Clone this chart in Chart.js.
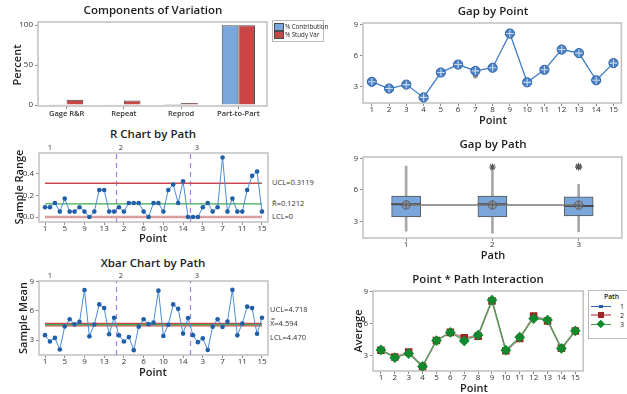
<!DOCTYPE html>
<html>
<head>
<meta charset="utf-8">
<script src="https://cdn.jsdelivr.net/npm/chart.js@4.4.1/dist/chart.umd.min.js"></script>
<style>
  html, body { margin: 0; padding: 0; background: #fff; }
  #page { position: relative; width: 627px; height: 394px; overflow: hidden;
          font-family: 'Open Sans', 'Noto Sans', sans-serif; color: #1e1e1e; }
  #page canvas { position: absolute; }
  .t { position: absolute; white-space: nowrap; transform: translate(-50%, -50%); line-height: 1; }
  .title { font-size: 11.5px; font-weight: 600; }
  .ax { font-size: 11px; font-weight: 600; }
  .rot { transform: translate(-50%, -50%) rotate(-90deg); }
  .lim { position: absolute; font-size: 7.5px; white-space: nowrap; transform: translateY(-50%); line-height: 1; color: #333; }
  .seg { position: absolute; font-size: 7.5px; transform: translate(-50%, -50%); line-height: 1; color: #333; }
  .lg { position: absolute; border: 1px solid #b9b9b9; background: #fff; }
  .lgtxt { position: absolute; font-size: 6.2px; white-space: nowrap; transform: translateY(-50%); line-height: 1; color: #222; }
</style>
</head>
<body>
<div id="page">
  <!-- chart titles -->
  <div class="t title" style="left:153px;top:10px;">Components of Variation</div>
  <div class="t title" style="left:153px;top:134px;">R Chart by Path</div>
  <div class="t title" style="left:153px;top:263px;">Xbar Chart by Path</div>
  <div class="t title" style="left:493px;top:11px;">Gap by Point</div>
  <div class="t title" style="left:493px;top:144px;">Gap by Path</div>
  <div class="t title" style="left:478px;top:279px;">Point * Path Interaction</div>

  <!-- axis titles -->
  <div class="t ax rot" style="left:16px;top:65px;">Percent</div>
  <div class="t ax rot" style="left:18px;top:187px;">Sample Range</div>
  <div class="t ax rot" style="left:22px;top:318px;">Sample Mean</div>
  <div class="t ax rot" style="left:357px;top:331px;">Average</div>
  <div class="t ax" style="left:153px;top:237px;">Point</div>
  <div class="t ax" style="left:153px;top:371px;">Point</div>
  <div class="t ax" style="left:493px;top:119px;">Point</div>
  <div class="t ax" style="left:493px;top:254px;">Path</div>
  <div class="t ax" style="left:474px;top:387px;">Point</div>

  <!-- path segment labels -->
  <div class="seg" style="left:50px;top:148px;">1</div>
  <div class="seg" style="left:121px;top:148px;">2</div>
  <div class="seg" style="left:197px;top:148px;">3</div>
  <div class="seg" style="left:50px;top:276px;">1</div>
  <div class="seg" style="left:121px;top:276px;">2</div>
  <div class="seg" style="left:197px;top:276px;">3</div>

  <!-- control limit labels -->
  <div class="lim" style="left:272px;top:183px;">UCL=0.3119</div>
  <div class="lim" style="left:272px;top:204px;">R&#772;=0.1212</div>
  <div class="lim" style="left:272px;top:217px;">LCL=0</div>
  <div class="lim" style="left:270px;top:310px;">UCL=4.718</div>
  <div class="lim" style="left:271px;top:318px;font-size:7px;">=</div>
  <div class="lim" style="left:270px;top:324px;">X=4.594</div>
  <div class="lim" style="left:270px;top:338px;">LCL=4.470</div>

  <!-- legend: components of variation -->
  <div class="lg" style="left:272px;top:20px;width:50px;height:20px;"></div>
  <div style="position:absolute;left:274px;top:23px;width:8px;height:6px;background:#7ba6dc;border:1px solid #4a4a4a;"></div>
  <div class="lgtxt" style="left:285px;top:26.5px;">% Contribution</div>
  <div style="position:absolute;left:274px;top:31px;width:8px;height:6px;background:#c94646;border:1px solid #4a4a4a;"></div>
  <div class="lgtxt" style="left:285px;top:34.5px;">% Study Var</div>

  <!-- legend: interaction plot -->
  <div class="lg" style="left:588px;top:290px;width:45px;height:47px;"></div>
  <div class="lgtxt" style="left:604px;top:297px;font-weight:600;font-size:6.8px;">Path</div>
  <div style="position:absolute;left:591px;top:305.5px;width:20px;height:1.3px;background:#2f6db5;"></div>
  <div style="position:absolute;left:599px;top:304.5px;width:3.5px;height:3.5px;background:#1f5fa8;"></div>
  <div class="lgtxt" style="left:620px;top:306px;font-size:7px;">1</div>
  <div style="position:absolute;left:591px;top:314px;width:20px;height:2px;background:#d79090;"></div>
  <div style="position:absolute;left:598px;top:312px;width:6px;height:6px;background:#a32222;"></div>
  <div class="lgtxt" style="left:620px;top:315px;font-size:7px;">2</div>
  <div style="position:absolute;left:591px;top:323.5px;width:20px;height:1.3px;background:#3aa14a;"></div>
  <div style="position:absolute;left:598px;top:320.5px;width:5.5px;height:5.5px;background:#10892f;transform:rotate(45deg);"></div>
  <div class="lgtxt" style="left:620px;top:324px;font-size:7px;">3</div>
</div>

<script>
// ---- data ----
const componentNames = ['Gage R&R', 'Repeat', 'Reprod', 'Part-to-Part'];
const pctContribution = [0.42, 0.30, 0.06, 99.58];
const pctStudyVar = [6.5, 5.5, 2.5, 99.79];

const pointNumbers = [1, 2, 3, 4, 5, 6, 7, 8, 9, 10, 11, 12, 13, 14, 15];
const pathNames = ['1', '2', '3'];

// subgroup ranges, one value per point, for each path
const rangePath1 = [0.09, 0.09, 0.13, 0.05, 0.17, 0.05, 0.05, 0.09, 0.05, 0.00, 0.05, 0.25, 0.25, 0.05, 0.05];
const rangePath2 = [0.09, 0.05, 0.13, 0.13, 0.13, 0.05, 0.00, 0.13, 0.13, 0.05, 0.25, 0.30, 0.13, 0.33, 0.00];
const rangePath3 = [0.00, 0.00, 0.09, 0.13, 0.05, 0.09, 0.55, 0.05, 0.17, 0.05, 0.05, 0.25, 0.38, 0.42, 0.05];
const rUCL = 0.3119, rBar = 0.1212, rLCL = 0;

// subgroup means, one value per point, for each path
const meanPath1 = [3.50, 2.85, 3.22, 2.02, 4.40, 5.15, 4.62, 4.88, 8.17, 3.38, 4.60, 6.68, 6.30, 3.60, 5.30];
const meanPath2 = [3.48, 2.85, 3.30, 1.95, 4.38, 5.15, 4.64, 4.80, 8.10, 3.42, 4.58, 6.68, 6.22, 3.66, 5.28];
const meanPath3 = [3.50, 2.78, 3.17, 1.96, 4.38, 5.15, 4.35, 4.90, 8.18, 3.48, 4.70, 6.45, 6.30, 3.64, 5.30];
const xUCL = 4.718, xGrand = 4.594, xLCL = 4.470;

// gap by point: mean of each point and the observations that stand out
const pointMeans = [3.50, 2.85, 3.23, 1.99, 4.40, 5.17, 4.56, 4.86, 8.17, 3.45, 4.66, 6.62, 6.28, 3.65, 5.31];
const obsPoint = [4, 7, 9, 12, 12, 14];
const obsValue = [1.90, 4.08, 8.25, 6.82, 6.45, 3.52];

// gap by path: box plot summary
const boxLow = [2.10, 1.90, 2.05];
const boxQ1 = [3.44, 3.44, 3.54];
const boxMedian = [4.64, 4.64, 4.48];
const boxQ3 = [5.43, 5.43, 5.34];
const boxHigh = [8.27, 7.95, 6.54];
const boxMean = [4.58, 4.58, 4.57];
const outlierPath = ['2', '3', '3'];
const outlierValue = [8.18, 8.16, 8.24];

// ---- shared styling ----
const FONT = "'Open Sans', 'Noto Sans', sans-serif";
const tickFont = { family: FONT, size: 8 };

const framePlugin = {
  id: 'frame',
  beforeDatasetsDraw(chart) {
    const { ctx, chartArea: a } = chart;
    ctx.save();
    ctx.strokeStyle = '#c4c4c4';
    ctx.lineWidth = 1.6;
    ctx.strokeRect(a.left, a.top, a.right - a.left, a.bottom - a.top);
    ctx.restore();
  }
};

function axis(extra) {
  return Object.assign({
    grid: { display: true, drawOnChartArea: false, drawTicks: true, tickLength: 3, color: '#8a8a8a', offset: false },
    border: { display: false },
    ticks: { font: tickFont, color: '#333', padding: -1, autoSkip: false, maxRotation: 0, minRotation: 0 }
  }, extra);
}

function fixedTicks(values) {
  return scale => { scale.ticks = values.map(v => ({ value: v })); };
}

const page = document.getElementById('page');

// places a chart so that its plot area lands on the given box
function makeChart(box, yW, xH, padTop, padRight, config) {
  const c = document.createElement('canvas');
  const w = box.r - box.l + yW + padRight;
  const h = box.b - box.t + padTop + xH;
  c.width = w; c.height = h;
  c.style.left = (box.l - yW) + 'px';
  c.style.top = (box.t - padTop) + 'px';
  c.style.width = w + 'px';
  c.style.height = h + 'px';
  page.insertBefore(c, page.firstChild);
  const o = config.options;
  o.responsive = false;
  o.animation = false;
  o.events = [];
  o.layout = { padding: { top: padTop, right: padRight, left: 0, bottom: 0 } };
  o.plugins = Object.assign({ legend: { display: false }, tooltip: { enabled: false } }, o.plugins || {});
  o.scales.x.afterFit = s => { s.height = xH; };
  o.scales.y.afterFit = s => { s.width = yW; };
  config.plugins = [framePlugin];
  return new Chart(c, config);
}

function hline(x0, x1, y, color, width, order) {
  return { type: 'line', data: [{ x: x0, y: y }, { x: x1, y: y }], borderColor: color, borderWidth: width,
           pointRadius: 0, order: order };
}
function vline(x, y0, y1, order) {
  return { type: 'line', data: [{ x: x, y: y0 }, { x: x, y: y1 }], borderColor: '#a47fe2', borderWidth: 1.2,
           borderDash: [5, 4], pointRadius: 0, order: order };
}

const xTicks = (cb) => ({ font: tickFont, color: '#333', padding: -1, autoSkip: false, maxRotation: 0, callback: cb });
const yTicks = (cb) => ({ font: tickFont, color: '#333', padding: 2, callback: cb });

// ---- Components of Variation ----
makeChart({ l: 38, t: 22, r: 267, b: 106 }, 38, 18, 22, 3, {
  type: 'bar',
  data: {
    labels: componentNames,
    datasets: [
      { data: pctContribution, backgroundColor: '#7ba6dc', borderColor: '#4a4a4a', borderWidth: 1,
        categoryPercentage: 0.58, barPercentage: 1.0 },
      { data: pctStudyVar, backgroundColor: '#c94646', borderColor: '#4a4a4a', borderWidth: 1,
        categoryPercentage: 0.58, barPercentage: 1.0 }
    ]
  },
  options: {
    scales: {
      x: axis({ ticks: { font: { family: FONT, size: 7.5, weight: '600' }, color: '#333', padding: 0, autoSkip: false, maxRotation: 0 } }),
      y: axis({ min: -1.25, max: 103.75, afterBuildTicks: fixedTicks([0, 50, 100]), ticks: yTicks(v => String(v)) })
    }
  }
});

// ---- R chart and Xbar chart by path ----
const seqCount = pointNumbers.length * pathNames.length;
const seqTicks = [];
for (let i = 0; i < seqCount; i += 4) seqTicks.push(i);
const seqLabel = v => String(pointNumbers[v % pointNumbers.length]);

function sequence(arrays) {
  const out = [];
  arrays.forEach(a => a.forEach(v => out.push({ x: out.length, y: v })));
  return out;
}

function controlChart(box, values, ucl, center, lcl, yMin, yMax, yTickVals, yLabel, lclStyle) {
  const last = seqCount - 1;
  makeChart(box, 39, 14, 10, 4, {
    type: 'line',
    data: {
      datasets: [
        { data: values, borderColor: '#4a8bd6', borderWidth: 1, pointRadius: 2.3,
          pointBackgroundColor: '#1f5fa8', pointBorderColor: '#1f5fa8', pointBorderWidth: 0, order: 1 },
        hline(0, last, ucl, '#c9484c', 1.3, 3),
        hline(0, last, center, '#3ca94a', 1.3, 2),
        hline(0, last, lcl, lclStyle.color, lclStyle.width, 4),
        vline(14.5, yMin, yMax, 5),
        vline(29.5, yMin, yMax, 5)
      ]
    },
    options: {
      scales: {
        x: axis({ type: 'linear', min: -1.22, max: 45.22, afterBuildTicks: fixedTicks(seqTicks), ticks: xTicks(seqLabel) }),
        y: axis({ min: yMin, max: yMax, afterBuildTicks: fixedTicks(yTickVals), ticks: yTicks(yLabel) })
      }
    }
  });
}

controlChart({ l: 39, t: 153, r: 268, b: 222 }, sequence([rangePath1, rangePath2, rangePath3]),
  rUCL, rBar, rLCL, -0.046, 0.591, [0, 0.2, 0.4], v => v.toFixed(1), { color: '#dc9ea1', width: 2.6 });

controlChart({ l: 39, t: 281, r: 268, b: 355 }, sequence([meanPath1, meanPath2, meanPath3]),
  xUCL, xGrand, xLCL, 1.45, 9.1, [3, 6, 9], v => String(v), { color: '#c9484c', width: 1.3 });

// ---- Gap by Point ----
makeChart({ l: 363, t: 23, r: 626, b: 103 }, 22, 14, 10, 1, {
  type: 'line',
  data: {
    datasets: [
      { data: pointNumbers.map((p, i) => ({ x: p, y: pointMeans[i] })), showLine: false, pointStyle: 'cross',
        pointRadius: 3.8, pointBorderColor: '#c8d8ee', pointBorderWidth: 1.1, order: 1 },
      { data: pointNumbers.map((p, i) => ({ x: p, y: pointMeans[i] })), borderColor: '#3e79c3', borderWidth: 1.3,
        pointRadius: 4.6, pointBackgroundColor: '#4b82c6', pointBorderColor: '#2b62a6', pointBorderWidth: 1, order: 2 },
      { data: obsPoint.map((p, i) => ({ x: p, y: obsValue[i] })), showLine: false, pointRadius: 2.2,
        pointBackgroundColor: '#8d8d8d', pointBorderColor: '#8d8d8d', order: 3 }
    ]
  },
  options: {
    scales: {
      x: axis({ type: 'linear', min: 0.49, max: 15.46, afterBuildTicks: fixedTicks(pointNumbers), ticks: xTicks(v => String(v)) }),
      y: axis({ min: 1.45, max: 9.19, afterBuildTicks: fixedTicks([3, 6, 9]), ticks: yTicks(v => String(v)) })
    }
  }
});

// ---- Gap by Path (box plots) ----
makeChart({ l: 363, t: 157, r: 626, b: 238 }, 22, 14, 10, 1, {
  type: 'bar',
  data: {
    labels: pathNames,
    datasets: [
      { type: 'line', data: outlierPath.map((p, i) => ({ x: p, y: outlierValue[i] })), showLine: false,
        pointStyle: 'star', pointRadius: 3.5, pointBorderColor: '#555', pointBorderWidth: 1.1, order: 0 },
      { type: 'line', data: boxMean, showLine: false, pointStyle: 'cross', pointRadius: 3.8,
        pointBorderColor: '#5f5f5f', pointBorderWidth: 1, order: 1 },
      { type: 'line', data: boxMean, borderColor: '#7a7a7a', borderWidth: 1.5, pointRadius: 4.2,
        pointBackgroundColor: 'rgba(140,140,140,0.55)', pointBorderColor: '#5f5f5f', pointBorderWidth: 1, order: 2 },
      { data: boxMedian.map(m => [m - 0.06, m + 0.06]), backgroundColor: '#4b4b4b', barThickness: 29,
        grouped: false, order: 3 },
      { data: boxQ1.map((q, i) => [q, boxQ3[i]]), backgroundColor: '#7ba6dc', borderColor: '#555',
        borderWidth: 1, borderSkipped: false, barThickness: 29, grouped: false, order: 4 },
      { data: boxLow.map((l, i) => [l, boxHigh[i]]), backgroundColor: '#a8a8a8', barThickness: 2,
        grouped: false, order: 5 }
    ]
  },
  options: {
    scales: {
      x: axis({ type: 'category', offset: true, ticks: xTicks(function (v) { return this.getLabelForValue(v); }) }),
      y: axis({ min: 1.45, max: 9.12, afterBuildTicks: fixedTicks([3, 6, 9]), ticks: yTicks(v => String(v)) })
    }
  }
});

// ---- Point * Path interaction ----
makeChart({ l: 373, t: 291, r: 585, b: 371 }, 22, 14, 10, 4, {
  type: 'line',
  data: {
    datasets: [
      { data: pointNumbers.map((p, i) => ({ x: p, y: meanPath3[i] })), borderColor: '#3aa14a', borderWidth: 1.1,
        pointStyle: 'rectRot', pointRadius: 4.6, pointBackgroundColor: '#10892f', pointBorderColor: '#10892f', order: 1 },
      { data: pointNumbers.map((p, i) => ({ x: p, y: meanPath2[i] })), borderColor: '#d79090', borderWidth: 1.6,
        pointStyle: 'rect', pointRadius: 4.2, pointBackgroundColor: '#a32222', pointBorderColor: '#a32222', order: 2 },
      { data: pointNumbers.map((p, i) => ({ x: p, y: meanPath1[i] })), borderColor: '#2f6db5', borderWidth: 1.2,
        pointStyle: 'rect', pointRadius: 2, pointBackgroundColor: '#1f5fa8', pointBorderColor: '#1f5fa8', order: 3 }
    ]
  },
  options: {
    scales: {
      x: axis({ type: 'linear', min: 0.43, max: 15.57, afterBuildTicks: fixedTicks(pointNumbers), ticks: xTicks(v => String(v)) }),
      y: axis({ min: 1.53, max: 9.03, afterBuildTicks: fixedTicks([3, 6, 9]), ticks: yTicks(v => String(v)) })
    }
  }
});
</script>
</body>
</html>
